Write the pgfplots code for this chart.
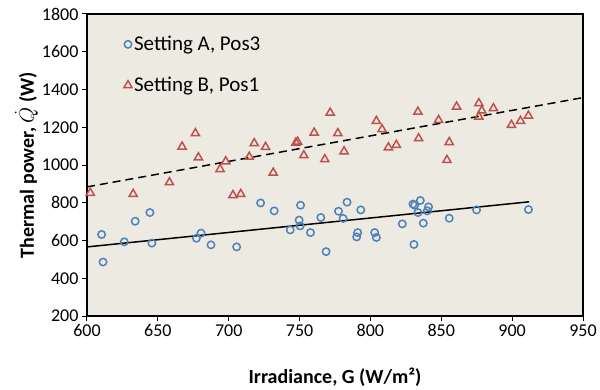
\documentclass[border=0pt]{standalone}
\usepackage{pgfplots}
\pgfplotsset{compat=1.18}
\usepackage{fontspec}
\setmainfont{Carlito}
\definecolor{bg}{RGB}{237,235,225}
\definecolor{cblue}{RGB}{79,129,189}
\definecolor{cred}{RGB}{192,80,77}
\begin{document}
\begin{tikzpicture}
\useasboundingbox (0,0) rectangle (600pt,389pt);
\begin{axis}[
  at={(87pt,73pt)}, anchor=south west,
  scale only axis, width=496pt, height=302pt,
  xmin=600, xmax=950, ymin=200, ymax=1800,
  xtick distance=50, ytick distance=200,
  axis background/.style={fill=bg},
  axis line style={line width=1.8pt, black},
  tick style={line width=1pt, black},
  tick align=outside, major tick length=5pt,
  xtick pos=bottom, ytick pos=left,
  /pgf/number format/assume math mode=true,
  /pgf/number format/1000 sep={},
  ticklabel style={font=\fontsize{18}{18}\selectfont},
  xlabel={\textbf{Irradiance, G (W/m²)}},
  ylabel={\textbf{Thermal power, $\dot{Q}$ (W)}},
  label style={font=\fontsize{20}{20}\selectfont},
  xlabel style={at={(axis description cs:0.5,-0.202)}, anchor=center},
  ylabel style={at={(axis description cs:-0.122,0.5)}, anchor=center},
  legend style={draw=none, fill=none, at={(axis description cs:0.068,0.94)}, anchor=north west,
    font=\fontsize{21}{21}\selectfont, row sep=21pt},
  legend cell align=left,
]
\addplot[only marks, mark=o, mark size=3.7pt, mark options={line width=1.5pt, cblue}] coordinates {
(610.3,632) (611.3,486) (626.3,593) (634,702) (644.4,748) (645.8,586)
(677.2,612) (680.5,639) (687.5,577) (705.6,566) (722.5,799) (732.1,757)
(750.7,787) (749.7,708) (750.4,677) (743.4,656) (757.7,642) (765,722)
(768.7,541) (777.5,755) (783.5,803) (780.7,717) (793.2,762) (791,642)
(790.3,619) (803,642) (804.2,616) (822.5,688) (830.7,579) (830,793)
(831.2,787) (835.2,812) (833.5,748) (841,778) (840.1,757) (837.3,692)
(855.6,718) (874.9,762) (911.5,764)
};
\addlegendentry{Setting A, Pos3}
\addplot[only marks, mark=triangle, mark size=4.7pt, mark options={line width=1.5pt, cred}] coordinates {
(602.3,852) (632.6,846) (658.2,908) (667.1,1097) (676.5,1168) (678.6,1040)
(693.9,978) (697.9,1019) (703,840) (708.5,846) (714.5,1043) (718,1115)
(726,1095) (731.4,959) (747.4,1118) (748.6,1123) (753,1051) (760.3,1171)
(767.8,1030) (771.6,1277) (777,1168) (781.4,1072) (804.2,1233) (808.2,1189)
(812.7,1093) (818.3,1106) (833.5,1282) (834,1141) (848.1,1238) (855.6,1121)
(854,1026) (860.8,1309) (876.5,1327) (878.6,1288) (876.5,1256) (886.8,1300)
(899.5,1212) (905.9,1233) (911.5,1261)
};
\addlegendentry{Setting B, Pos1}
\addplot[forget plot, black, line width=1.5pt, dash pattern=on 8pt off 5pt] coordinates {(600,884) (950,1357)};
\addplot[forget plot, black, line width=1.5pt] coordinates {(600,566) (912,805)};
\end{axis}
\end{tikzpicture}
\end{document}
